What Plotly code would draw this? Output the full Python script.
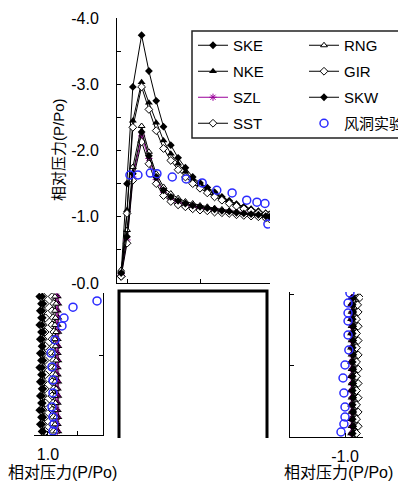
import plotly.graph_objects as go

W, H = 398, 485
FONT = "Liberation Sans, Arial, Noto Sans CJK SC, sans-serif"

# ---------------- data ----------------
series_names = ["SKE", "NKE", "SZL", "SST", "RNG", "GIR", "SKW"]

# roof (top panel): position along roof, relative pressure
roof_x = [-0.08, 0.0, 0.08, 0.2, 0.3, 0.4, 0.5, 0.6, 0.7, 0.8, 0.9, 1.0,
          1.1, 1.2, 1.3, 1.4, 1.5, 1.6, 1.7, 1.8, 1.9, 1.95]
roof_SKE = [-0.15, -1.5, -2.96, -3.74, -3.2, -2.75, -2.36, -2.08, -1.89, -1.74, -1.6, -1.51,
            -1.44, -1.37, -1.3, -1.24, -1.19, -1.15, -1.11, -1.08, -1.05, -1.03]
roof_NKE = [-0.12, -1.1, -2.45, -3.03, -2.72, -2.42, -2.15, -1.95, -1.8, -1.68, -1.57, -1.49,
            -1.42, -1.35, -1.29, -1.24, -1.19, -1.15, -1.12, -1.09, -1.06, -1.04]
roof_SZL = [-0.12, -0.65, -1.6, -2.22, -1.88, -1.56, -1.37, -1.27, -1.22, -1.18, -1.15, -1.13,
            -1.11, -1.1, -1.08, -1.07, -1.05, -1.04, -1.03, -1.02, -1.0, -0.99]
roof_SST = [-0.1, -0.6, -1.55, -2.13, -1.8, -1.5, -1.32, -1.23, -1.18, -1.15, -1.12, -1.1,
            -1.09, -1.07, -1.06, -1.05, -1.03, -1.02, -1.01, -1.0, -0.98, -0.97]
roof_RNG = [-0.2, -0.8, -1.75, -2.37, -1.98, -1.65, -1.45, -1.35, -1.28, -1.23, -1.2, -1.17,
            -1.15, -1.13, -1.11, -1.09, -1.08, -1.06, -1.05, -1.04, -1.02, -1.01]
roof_GIR = [-0.1, -1.05, -2.35, -2.96, -2.62, -2.3, -2.03, -1.85, -1.71, -1.6, -1.5, -1.43,
            -1.36, -1.3, -1.25, -1.2, -1.16, -1.12, -1.09, -1.06, -1.04, -1.02]
roof_SKW = [-0.15, -0.7, -1.65, -2.28, -1.92, -1.6, -1.4, -1.3, -1.24, -1.2, -1.17, -1.15,
            -1.13, -1.11, -1.09, -1.08, -1.06, -1.05, -1.04, -1.03, -1.01, -1.0]

tunnel_roof_x = [0.04, 0.15, 0.32, 0.41, 0.62, 0.81, 1.03, 1.23, 1.44, 1.64, 1.78, 1.89, 1.93]
tunnel_roof_p = [-1.63, -1.63, -1.66, -1.65, -1.6, -1.57, -1.51, -1.4, -1.36, -1.25, -1.22, -1.2, -0.89]

# walls: relative height
wall_h = [0.025, 0.075, 0.125, 0.175, 0.225, 0.275, 0.325, 0.375, 0.425, 0.475,
          0.525, 0.575, 0.625, 0.675, 0.725, 0.775, 0.825, 0.875, 0.925, 0.975]

# windward wall (bottom-left panel)
wind_SKE = [1.11, 1.14, 1.12, 1.15, 1.12, 1.14, 1.11, 1.14, 1.12, 1.15, 1.12, 1.14, 1.11, 1.14, 1.12, 1.15, 1.12, 1.14, 1.12, 1.15]
wind_NKE = [0.82, 0.83, 0.82, 0.83, 0.83, 0.82, 0.83, 0.82, 0.83, 0.83, 0.82, 0.83, 0.82, 0.83, 0.82, 0.83, 0.82, 0.83, 0.82, 0.83]
wind_SZL = [0.84, 0.85, 0.84, 0.85, 0.85, 0.84, 0.85, 0.84, 0.85, 0.85, 0.84, 0.85, 0.84, 0.85, 0.84, 0.85, 0.84, 0.85, 0.84, 0.85]
wind_SST = [0.9, 0.93, 0.9, 0.93, 0.91, 0.93, 0.9, 0.93, 0.91, 0.93, 0.9, 0.93, 0.91, 0.93, 0.9, 0.93, 0.91, 0.93, 0.9, 0.93]
wind_RNG = [0.86, 0.88, 0.86, 0.88, 0.87, 0.88, 0.86, 0.88, 0.87, 0.88, 0.86, 0.88, 0.87, 0.88, 0.86, 0.88, 0.87, 0.88, 0.86, 0.88]
wind_GIR = [1.04, 1.08, 1.05, 1.08, 1.04, 1.08, 1.05, 1.08, 1.04, 1.08, 1.05, 1.08, 1.04, 1.08, 1.05, 1.08, 1.04, 1.08, 1.05, 1.08]
wind_SKW = [1.08, 1.1, 1.08, 1.1, 1.09, 1.1, 1.08, 1.1, 1.09, 1.1, 1.08, 1.1, 1.09, 1.1, 1.08, 1.1, 1.09, 1.1, 1.08, 1.1]

tunnel_wind_h = [0.944, 0.90, 0.824, 0.768, 0.669, 0.577, 0.479, 0.387, 0.296, 0.197, 0.127, 0.077, 0.028]
tunnel_wind_p = [0.155, 0.569, 0.724, 0.759, 0.879, 0.948, 0.931, 0.914, 0.914, 0.931, 0.914, 0.897, 0.914]

# leeward wall (bottom-right panel)
lee_SKE = [-1.12, -1.13, -1.12, -1.13, -1.12, -1.13, -1.12, -1.13, -1.12, -1.13, -1.12, -1.13, -1.12, -1.13, -1.12, -1.13, -1.12, -1.13, -1.12, -1.13]
lee_NKE = [-1.11, -1.12, -1.11, -1.12, -1.11, -1.12, -1.11, -1.12, -1.11, -1.12, -1.11, -1.12, -1.11, -1.12, -1.11, -1.12, -1.11, -1.12, -1.11, -1.12]
lee_SZL = [-1.13, -1.14, -1.13, -1.14, -1.13, -1.14, -1.13, -1.14, -1.13, -1.14, -1.13, -1.14, -1.13, -1.14, -1.13, -1.14, -1.13, -1.14, -1.13, -1.14]
lee_SST = [-1.19, -1.22, -1.19, -1.22, -1.19, -1.22, -1.19, -1.22, -1.19, -1.22, -1.19, -1.22, -1.19, -1.22, -1.19, -1.22, -1.19, -1.22, -1.2, -1.24]
lee_RNG = [-1.16, -1.17, -1.16, -1.17, -1.16, -1.17, -1.16, -1.17, -1.16, -1.17, -1.16, -1.17, -1.16, -1.17, -1.16, -1.17, -1.16, -1.17, -1.17, -1.2]
lee_GIR = [-1.21, -1.24, -1.21, -1.24, -1.21, -1.24, -1.21, -1.24, -1.21, -1.24, -1.21, -1.24, -1.21, -1.24, -1.21, -1.24, -1.21, -1.24, -1.23, -1.27]
lee_SKW = [-1.14, -1.15, -1.14, -1.15, -1.14, -1.15, -1.14, -1.15, -1.14, -1.15, -1.14, -1.15, -1.14, -1.15, -1.14, -1.15, -1.14, -1.15, -1.14, -1.15]

tunnel_lee_h = [1.008, 0.938, 0.868, 0.812, 0.714, 0.609, 0.504, 0.413, 0.308, 0.21, 0.14, 0.091, 0.035]
tunnel_lee_p = [-1.09, -1.055, -1.055, -1.055, -1.055, -1.07, -1.0, -0.964, -0.98, -1.0, -1.0, -0.98, -0.927]

roof = dict(SKE=roof_SKE, NKE=roof_NKE, SZL=roof_SZL, SST=roof_SST, RNG=roof_RNG, GIR=roof_GIR, SKW=roof_SKW)
wind = dict(SKE=wind_SKE, NKE=wind_NKE, SZL=wind_SZL, SST=wind_SST, RNG=wind_RNG, GIR=wind_GIR, SKW=wind_SKW)
lee = dict(SKE=lee_SKE, NKE=lee_NKE, SZL=lee_SZL, SST=lee_SST, RNG=lee_RNG, GIR=lee_GIR, SKW=lee_SKW)

# ---------------- styles ----------------
PURPLE = "#990099"
BLUE = "#2b2bff"
styles = {
    "SKE": dict(line=dict(color="black", width=1), marker=dict(symbol="diamond", size=6, color="black")),
    "NKE": dict(line=dict(color="black", width=1), marker=dict(symbol="triangle-up", size=7, color="black")),
    "SZL": dict(line=dict(color=PURPLE, width=1), marker=dict(symbol="asterisk-open", size=6, color=PURPLE, line=dict(color=PURPLE, width=1))),
    "SST": dict(line=dict(color="black", width=1), marker=dict(symbol="diamond", size=6, color="white", line=dict(color="black", width=1))),
    "RNG": dict(line=dict(color="black", width=1), marker=dict(symbol="triangle-up", size=6, color="white", line=dict(color="black", width=1))),
    "GIR": dict(line=dict(color="black", width=1), marker=dict(symbol="diamond", size=6, color="white", line=dict(color="black", width=1))),
    "SKW": dict(line=dict(color="black", width=1), marker=dict(symbol="diamond", size=6, color="black")),
}
legend_of = {"SKE": "legend", "NKE": "legend", "SZL": "legend", "SST": "legend",
             "RNG": "legend2", "GIR": "legend2", "SKW": "legend2"}

def px_x(p):
    return p / W

def px_y(p):
    return 1 - p / H

fig = go.Figure()

for name in series_names:
    st = styles[name]
    fig.add_trace(go.Scatter(x=roof_x, y=roof[name], mode="lines+markers", name=name,
                             legend=legend_of[name], legendgroup=name, xaxis="x", yaxis="y", **st))
    fig.add_trace(go.Scatter(x=wind[name], y=wall_h, mode="lines+markers", name=name,
                             legendgroup=name, showlegend=False, xaxis="x2", yaxis="y2", **st))
    fig.add_trace(go.Scatter(x=lee[name], y=wall_h, mode="lines+markers", name=name,
                             legendgroup=name, showlegend=False, xaxis="x3", yaxis="y3", **st))

tunnel_style = dict(mode="markers", marker=dict(symbol="circle-open", size=8, color=BLUE, line=dict(width=1.5, color=BLUE)))
fig.add_trace(go.Scatter(x=tunnel_roof_x, y=tunnel_roof_p, name="风洞实验", legend="legend2",
                         legendgroup="tunnel", xaxis="x", yaxis="y", **tunnel_style))
fig.add_trace(go.Scatter(x=tunnel_wind_p, y=tunnel_wind_h, name="风洞实验", legendgroup="tunnel",
                         showlegend=False, xaxis="x2", yaxis="y2", **tunnel_style))
fig.add_trace(go.Scatter(x=tunnel_lee_p, y=tunnel_lee_h, name="风洞实验", legendgroup="tunnel",
                         showlegend=False, xaxis="x3", yaxis="y3", **tunnel_style))

axis_common = dict(showline=True, linecolor="black", linewidth=1, showgrid=False, zeroline=False,
                   ticks="inside", ticklen=4, tickcolor="black", tickwidth=1, automargin=False,
                   tickfont=dict(family=FONT, size=16, color="black"))

y_ticks = [-4.0, -3.5, -3.0, -2.5, -2.0, -1.5, -1.0, -0.5, 0.0]
y_text = ["-4.0", "", "-3.0", "", "-2.0", "", "-1.0", "", "-0.0"]

fig.update_layout(
    template="none",
    width=W, height=H, margin=dict(l=0, r=0, t=0, b=0, autoexpand=False),
    paper_bgcolor="white", plot_bgcolor="rgba(0,0,0,0)",
    font=dict(family=FONT, size=15, color="black"),
    xaxis=dict(domain=[px_x(117), px_x(270)], range=[-0.137, 1.959], anchor="y",
               tickvals=[0, 1], showticklabels=False, **axis_common),
    yaxis=dict(domain=[px_y(283), px_y(18)], range=[0, -4], anchor="x",
               tickvals=y_ticks, ticktext=y_text, ticklabelstandoff=14, **axis_common),
    xaxis2=dict(domain=[px_x(34), px_x(103)], range=[1.241, 0.052], anchor="y2",
                tickvals=[0.5, 1.0], ticktext=["", "1.0"], ticklabelstandoff=5, **axis_common),
    yaxis2=dict(domain=[px_y(435), px_y(293)], range=[0, 1], anchor="x2", side="right",
                tickvals=[0.56], showticklabels=False, **axis_common),
    xaxis3=dict(domain=[px_x(290), px_x(363)], range=[0, -1.327], anchor="y3",
                tickvals=[-1.0], ticktext=["-1.0"], ticklabelstandoff=5, **axis_common),
    yaxis3=dict(domain=[px_y(437), px_y(292)], range=[0, 1.015], anchor="x3", side="left",
                tickvals=[0.5, 1.0], showticklabels=False, **axis_common),
    legend=dict(x=px_x(193), y=px_y(29), xanchor="left", yanchor="top", bgcolor="rgba(0,0,0,0)",
                borderwidth=0, tracegroupgap=3.5, font=dict(family=FONT, size=15, color="black")),
    legend2=dict(x=px_x(304), y=px_y(29), xanchor="left", yanchor="top", bgcolor="rgba(0,0,0,0)",
                 borderwidth=0, tracegroupgap=3.5, font=dict(family=FONT, size=15, color="black")),
    showlegend=True,
)

# legend frame and building outline
fig.add_shape(type="rect", xref="paper", yref="paper", x0=px_x(192), x1=px_x(430),
              y0=px_y(138), y1=px_y(31), line=dict(color="#222222", width=1.5))
fig.add_shape(type="path", xref="paper", yref="paper",
              path=f"M {px_x(119)} {px_y(438)} L {px_x(119)} {px_y(291)} L {px_x(267)} {px_y(291)} L {px_x(267)} {px_y(438)}",
              line=dict(color="black", width=3))

fig.add_annotation(text="相对压力(P/Po)", xref="paper", yref="paper", x=px_x(58), y=px_y(150),
                   textangle=-90, showarrow=False, font=dict(family=FONT, size=15, color="black"),
                   xanchor="center", yanchor="middle")
fig.add_annotation(text="相对压力(P/Po)", xref="paper", yref="paper", x=px_x(62), y=px_y(472),
                   showarrow=False, font=dict(family=FONT, size=16, color="black"),
                   xanchor="center", yanchor="middle")
fig.add_annotation(text="相对压力(P/Po)", xref="paper", yref="paper", x=px_x(338), y=px_y(472),
                   showarrow=False, font=dict(family=FONT, size=16, color="black"),
                   xanchor="center", yanchor="middle")

fig.write_html("out.html")
